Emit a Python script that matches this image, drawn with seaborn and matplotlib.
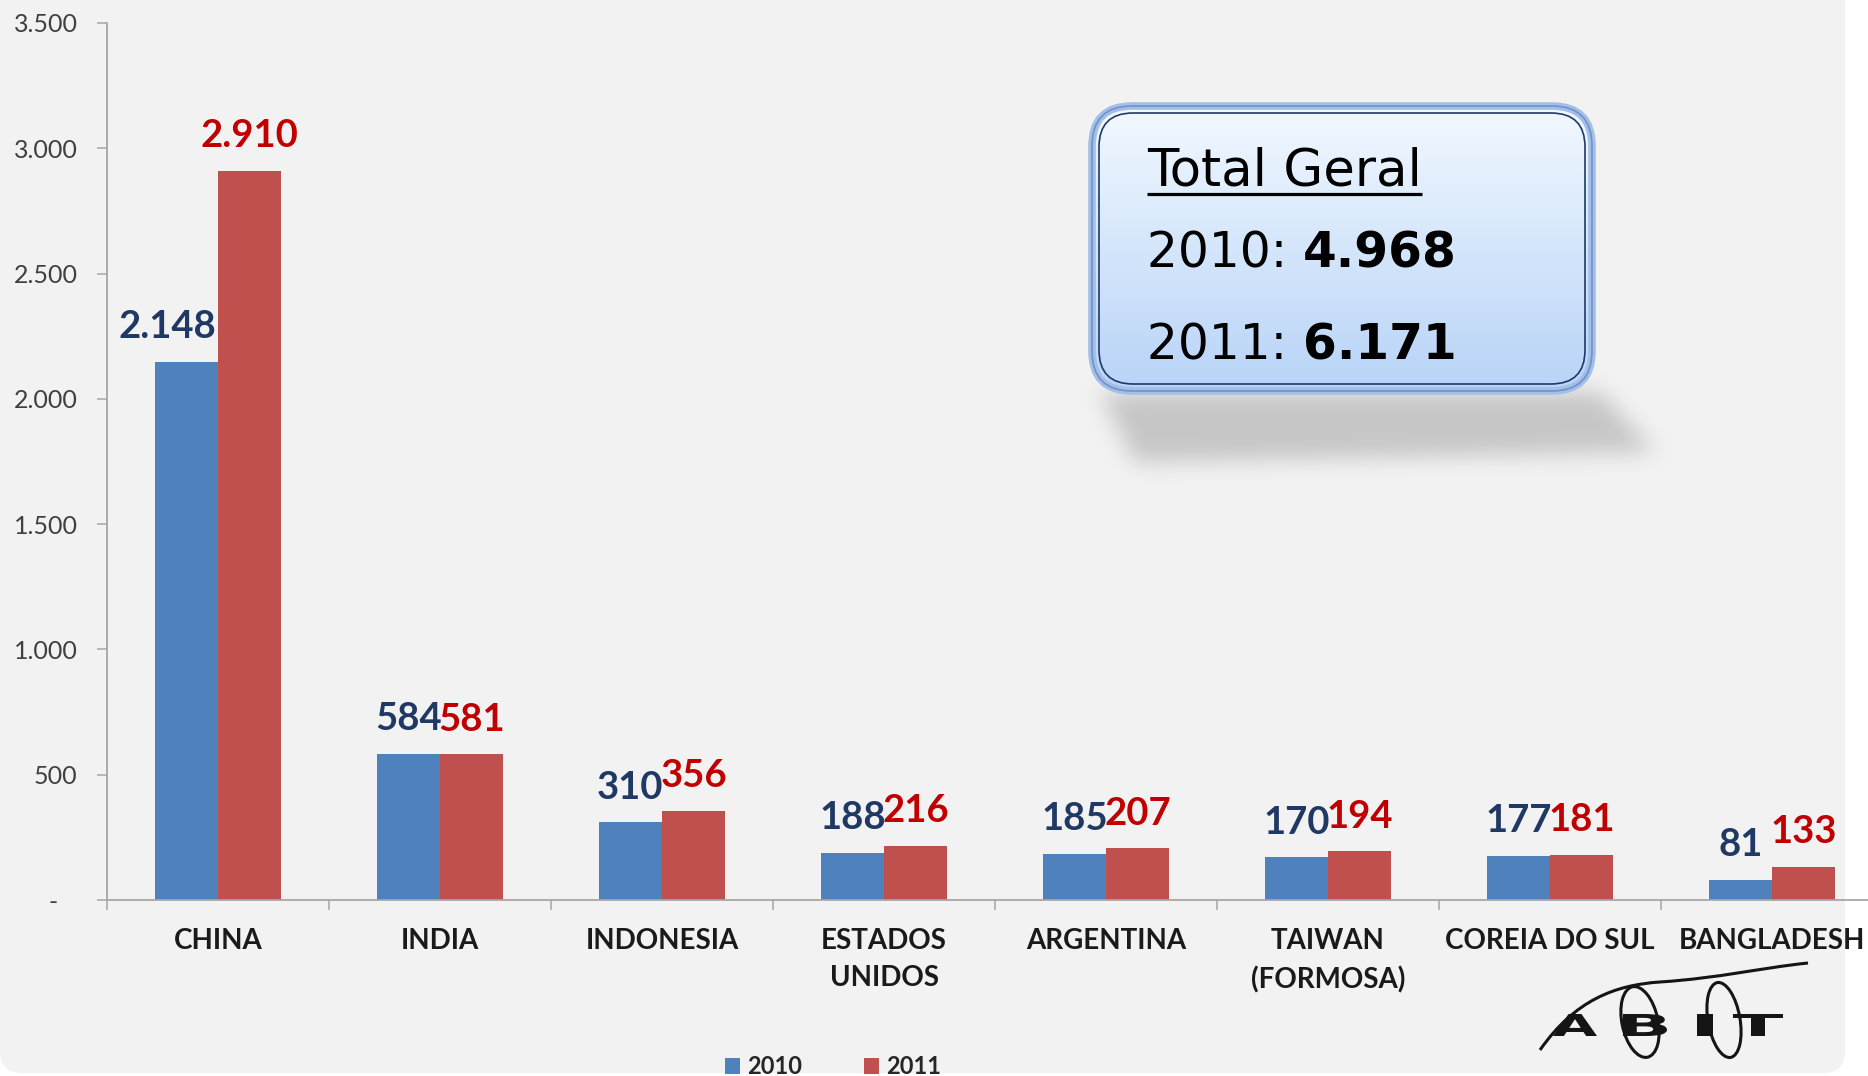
import numpy as np
import pandas as pd
import matplotlib
matplotlib.use("Agg")
import matplotlib.pyplot as plt
import seaborn as sns
from matplotlib.patches import FancyBboxPatch, PathPatch, Ellipse
from matplotlib.path import Path
from matplotlib.textpath import TextPath
from matplotlib.font_manager import FontProperties
import matplotlib.transforms as mtransforms

# ---------------- data ----------------
countries = ["CHINA", "INDIA", "INDONESIA", "ESTADOS\nUNIDOS", "ARGENTINA",
             "TAIWAN\n(FORMOSA)", "COREIA DO SUL", "BANGLADESH"]
values_2010 = [2148, 584, 310, 188, 185, 170, 177, 81]
values_2011 = [2910, 581, 356, 216, 207, 194, 181, 133]
years = ["2010", "2011"]
yticks = [0, 500, 1000, 1500, 2000, 2500, 3000, 3500]
ytick_labels = ["-   ", "500", "1.000", "1.500", "2.000", "2.500", "3.000", "3.500"]
box_title = "Total Geral"
total_2010 = "4.968"
total_2011 = "6.171"

def fmt(v):
    return f"{v:,}".replace(",", ".")

df = pd.DataFrame({
    "country": countries * 2,
    "year": [years[0]] * len(countries) + [years[1]] * len(countries),
    "value": values_2010 + values_2011,
})

# ---------------- style ----------------
sns.set_theme(style="white")
plt.rcParams["font.family"] = ["Lato", "DejaVu Sans"]

W, H = 1868, 1076
fig = plt.figure(figsize=(W / 100, H / 100), dpi=100, facecolor="white")

# background panel
bg = fig.add_axes([0, 0, 1, 1], zorder=0)
bg.set_xlim(0, W); bg.set_ylim(H, 0); bg.axis("off")
bg.add_patch(FancyBboxPatch((0, -60), 1845, 1073 + 60,
                            boxstyle="round,pad=0,rounding_size=22",
                            fc="#f2f2f2", ec="none"))

# main axes
ax = fig.add_axes([107 / W, (H - 900) / H, (1883 - 107) / W, 877 / H], zorder=1)
ax.set_facecolor("none")
palette = ["#4f81bd", "#c0504d"]
sns.barplot(data=df, x="country", y="value", hue="year", hue_order=years,
            order=countries, palette=palette, width=0.57, saturation=1,
            linewidth=0, ax=ax)
ax.set_xlim(-0.5, len(countries) - 0.5)
ax.set_ylim(0, 3500)
ax.set_xlabel(""); ax.set_ylabel("")

axis_col = "#a6a6a6"
for s in ["top", "right"]:
    ax.spines[s].set_visible(False)
for s in ["left", "bottom"]:
    ax.spines[s].set_color(axis_col)
    ax.spines[s].set_linewidth(1.3)

ax.set_yticks(yticks, ytick_labels)
ax.tick_params(axis="y", direction="out", length=7.2, width=1.1, color=axis_col,
               labelsize=18, labelcolor="#404040", pad=14, left=True)
ax.set_xticks(range(len(countries)), countries)
ax.tick_params(axis="x", which="major", length=0, pad=20, labelsize=20,
               labelcolor="#1a1a1a")
for t in ax.get_xticklabels():
    t.set_fontweight("bold")
    t.set_linespacing(1.55)
ax.set_xticks(np.arange(-0.5, len(countries), 1), minor=True)
ax.tick_params(axis="x", which="minor", direction="out", length=7.2, width=1.1,
               color=axis_col, bottom=True)

# value labels
label_cols = ["#1f3864", "#c00000"]
nudges = {(0, 0): -14}  # (hue index, category index) -> points
for hi, cont in enumerate(ax.containers):
    for ci, bar in enumerate(cont):
        x = bar.get_x() + bar.get_width() / 2
        h = bar.get_height()
        ax.annotate(fmt(int(round(h))), (x, h),
                    xytext=(nudges.get((hi, ci), 0), 17), textcoords="offset points",
                    ha="center", va="baseline", fontsize=27.5, fontweight="bold",
                    color=label_cols[hi], annotation_clip=False)

# legend
leg = ax.get_legend()
handles = leg.legend_handles
labels = [t.get_text() for t in leg.get_texts()]
leg.remove()
ax.legend(handles, labels, loc="center left", bbox_to_anchor=(725 / W, 1 - 1067 / H),
          bbox_transform=fig.transFigure, ncol=2, frameon=False,
          prop=FontProperties(family="Lato", weight="bold", size=17),
          handlelength=0.64, handleheight=0.64, handletextpad=0.3,
          columnspacing=2.6, borderpad=0, borderaxespad=0)

# ---------------- overlay: callout box and logo ----------------
ov = fig.add_axes([0, 0, 1, 1], zorder=3)
ov.set_facecolor("none")
ov.axis("off")

# soft shadow
x0, x1, y0, y1 = 1040, 1720, 360, 520
xs = np.arange(x0, x1) + 0.5
ys = np.arange(y0, y1) + 0.5
XX, YY = np.meshgrid(xs, ys)
poly = Path([(1100, 392), (1600, 392), (1655, 452), (1135, 462), (1100, 392)])
mask = poly.contains_points(np.c_[XX.ravel(), YY.ravel()]).reshape(XX.shape).astype(float)
def blur1d(a, r, axis):
    k = np.ones(2 * r + 1) / (2 * r + 1)
    return np.apply_along_axis(lambda m: np.convolve(m, k, mode="same"), axis, a)
for _ in range(3):
    mask = blur1d(mask, 10, 0)
    mask = blur1d(mask, 10, 1)
rgba = np.zeros(mask.shape + (4,))
rgba[..., :3] = 0.5
rgba[..., 3] = mask * 0.38
ov.imshow(rgba, extent=(x0, x1, y1, y0), origin="upper", aspect="auto",
          interpolation="bilinear", zorder=1)

bx, by, bw, bh = 1092, 106, 500, 285
box = FancyBboxPatch((bx, by), bw, bh, boxstyle="round,pad=0,rounding_size=40",
                     fc="none", ec="none", zorder=2)
ov.add_patch(box)
grad = np.linspace(0, 1, 256)[:, None]
top_c = np.array([0.95, 0.975, 1.0])
bot_c = np.array([0.72, 0.83, 0.97])
gimg = top_c[None, None, :] * (1 - grad[..., None]) + bot_c[None, None, :] * grad[..., None]
gim = ov.imshow(gimg, extent=(bx, bx + bw, by + bh, by), origin="upper",
                aspect="auto", zorder=2)
gim.set_clip_path(box)
ov.add_patch(FancyBboxPatch((bx, by), bw, bh, boxstyle="round,pad=0,rounding_size=40",
                            fc="none", ec="#a3bfe8", lw=5.5, zorder=3))
ov.add_patch(FancyBboxPatch((bx, by), bw, bh, boxstyle="round,pad=0,rounding_size=40",
                            fc="none", ec="#6f93c9", lw=1.2, zorder=3))
ov.add_patch(FancyBboxPatch((bx + 7, by + 7), bw - 14, bh - 14,
                            boxstyle="round,pad=0,rounding_size=34",
                            fc="none", ec="#1f3a66", lw=1.2, zorder=3))

ov.set_xlim(0, W); ov.set_ylim(H, 0)

fam = "DejaVu Sans"
t_title = ov.text(1147, 186, box_title, fontsize=37, family=fam, color="black",
                  ha="left", va="baseline", zorder=4)
t_a = ov.text(1147, 267, "2010: ", fontsize=35, family=fam, color="black",
              ha="left", va="baseline", zorder=4)
t_b = ov.text(1147, 360, "2011: ", fontsize=35, family=fam, color="black",
              ha="left", va="baseline", zorder=4)
fig.canvas.draw()
r = fig.canvas.get_renderer()
e_title = t_title.get_window_extent(r)
ov.plot([e_title.x0, e_title.x1], [194, 194], color="black", lw=2.3, zorder=4,
        solid_capstyle="butt")
ov.text(t_a.get_window_extent(r).x1, 267, total_2010, fontsize=35, family=fam,
        fontweight="bold", color="black", ha="left", va="baseline", zorder=4)
ov.text(t_b.get_window_extent(r).x1, 360, total_2011, fontsize=35, family=fam,
        fontweight="bold", color="black", ha="left", va="baseline", zorder=4)

# ABIT logo
logo_fp = FontProperties(family="DejaVu Sans", weight="bold")
letters = [("A", 1553, 1597), ("B", 1623, 1667), ("I", 1697, 1713), ("T", 1733, 1783)]
ltop, lbot = 1014, 1036
for ch, lx0, lx1 in letters:
    tp = TextPath((0, 0), ch, size=1, prop=logo_fp)
    ext = tp.get_extents()
    tr = (mtransforms.Affine2D().translate(-ext.x0, -ext.y0)
          .scale((lx1 - lx0) / ext.width, -(lbot - ltop) / ext.height)
          .translate(lx0, lbot))
    ov.add_patch(PathPatch(tr.transform_path(tp), fc="#151515", ec="none", zorder=4))
swirl = Path([(1540, 1050), (1575, 1000), (1615, 985), (1660, 982),
              (1720, 978), (1760, 968), (1808, 963)],
             [Path.MOVETO, Path.CURVE4, Path.CURVE4, Path.CURVE4,
              Path.CURVE4, Path.CURVE4, Path.CURVE4])
ov.add_patch(PathPatch(swirl, fc="none", ec="#151515", lw=2.2, zorder=4))
ov.add_patch(Ellipse((1640, 1022), 36, 72, angle=-12, fc="none", ec="#151515",
                     lw=2.2, zorder=4))
ov.add_patch(Ellipse((1724, 1020), 32, 76, angle=-10, fc="none", ec="#151515",
                     lw=2.2, zorder=4))

fig.savefig("out.png", dpi=100, facecolor=fig.get_facecolor())
